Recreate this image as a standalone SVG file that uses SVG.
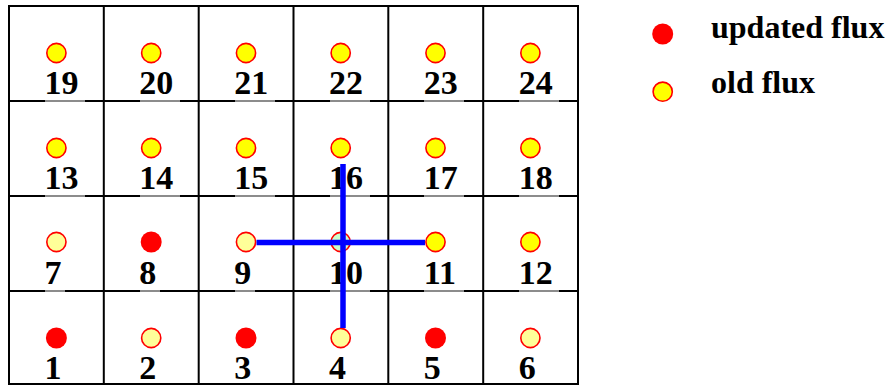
<svg xmlns="http://www.w3.org/2000/svg" width="888" height="385" viewBox="0 0 888 385">
<style>
.grid{fill:none;stroke:#000;stroke-width:2}
.lbl{font-family:"Liberation Serif","Times New Roman",serif;font-weight:bold;font-size:34px;fill:#000}
.leg{font-family:"Liberation Serif","Times New Roman",serif;font-weight:bold;font-size:32px;fill:#000}
.old{fill:#FFFF00;stroke:#FF0000;stroke-width:1.6}
.pale{fill:#FFFF99;stroke:#FF0000;stroke-width:1.6}
.green{fill:#CCFFCC;stroke:#FF0000;stroke-width:1.6}
.upd{fill:#FF0000}
.patch{fill:#fff;opacity:0.55}
.conn{stroke:#0000FF;stroke-width:5.5;fill:none}
</style>
<rect width="888" height="385" fill="#fff"/>
<g id="grid">
<rect class="grid" x="9" y="6" width="569" height="378"/>
<path class="grid" d="M103.8 6V384M198.7 6V384M293.5 6V384M388.3 6V384M483.2 6V384M9 101H578M9 196H578M9 291H578"/>
</g>
<g id="cell19"><rect class="patch" x="45" y="99" width="40" height="3"/><circle class="old" cx="56.4" cy="53" r="9.6"/><text class="lbl" x="44.5" y="94">19</text></g>
<g id="cell20"><rect class="patch" x="140" y="99" width="40" height="3"/><circle class="old" cx="151.2" cy="53" r="9.6"/><text class="lbl" x="139.3" y="94">20</text></g>
<g id="cell21"><rect class="patch" x="235" y="99" width="40" height="3"/><circle class="old" cx="246" cy="53" r="9.6"/><text class="lbl" x="234.2" y="94">21</text></g>
<g id="cell22"><rect class="patch" x="330" y="99" width="40" height="3"/><circle class="old" cx="340.7" cy="53" r="9.6"/><text class="lbl" x="329" y="94">22</text></g>
<g id="cell23"><rect class="patch" x="424" y="99" width="40" height="3"/><circle class="old" cx="435.5" cy="53" r="9.6"/><text class="lbl" x="423.8" y="94">23</text></g>
<g id="cell24"><rect class="patch" x="519" y="99" width="40" height="3"/><circle class="old" cx="530.4" cy="53" r="9.6"/><text class="lbl" x="518.7" y="94">24</text></g>

<g id="cell13"><rect class="patch" x="45" y="194" width="40" height="3"/><circle class="old" cx="56.4" cy="148" r="9.6"/><text class="lbl" x="44.5" y="189">13</text></g>
<g id="cell14"><rect class="patch" x="140" y="194" width="40" height="3"/><circle class="old" cx="151.2" cy="148" r="9.6"/><text class="lbl" x="139.3" y="189">14</text></g>
<g id="cell15"><rect class="patch" x="235" y="194" width="40" height="3"/><circle class="old" cx="246" cy="148" r="9.6"/><text class="lbl" x="234.2" y="189">15</text></g>
<g id="cell16"><rect class="patch" x="330" y="194" width="40" height="3"/><circle class="old" cx="340.7" cy="148" r="9.6"/><text class="lbl" x="329" y="189">16</text></g>
<g id="cell17"><rect class="patch" x="424" y="194" width="40" height="3"/><circle class="old" cx="435.5" cy="148" r="9.6"/><text class="lbl" x="423.8" y="189">17</text></g>
<g id="cell18"><rect class="patch" x="519" y="194" width="40" height="3"/><circle class="old" cx="530.4" cy="148" r="9.6"/><text class="lbl" x="518.7" y="189">18</text></g>

<g id="cell7"><rect class="patch" x="45" y="289" width="20" height="3"/><circle class="pale" cx="56.4" cy="242" r="9.6"/><text class="lbl" x="44.5" y="284">7</text></g>
<g id="cell8"><rect class="patch" x="140" y="289" width="20" height="3"/><circle class="upd" cx="151.2" cy="242" r="10.5"/><text class="lbl" x="139.3" y="284">8</text></g>
<g id="cell9"><rect class="patch" x="235" y="289" width="20" height="3"/><circle class="pale" cx="246" cy="242" r="9.6"/><text class="lbl" x="234.2" y="284">9</text></g>
<g id="cell10"><rect class="patch" x="330" y="289" width="40" height="3"/><circle class="green" cx="340.7" cy="242" r="9.6"/><text class="lbl" x="329" y="284">10</text></g>
<g id="cell11"><rect class="patch" x="424" y="289" width="40" height="3"/><circle class="old" cx="435.5" cy="242" r="9.6"/><text class="lbl" x="423.8" y="284">11</text></g>
<g id="cell12"><rect class="patch" x="519" y="289" width="40" height="3"/><circle class="old" cx="530.4" cy="242" r="9.6"/><text class="lbl" x="518.7" y="284">12</text></g>

<g id="cell1"><circle class="upd" cx="56.4" cy="338" r="10.5"/><text class="lbl" x="44.5" y="378.5">1</text></g>
<g id="cell2"><circle class="pale" cx="151.2" cy="338" r="9.6"/><text class="lbl" x="139.3" y="378.5">2</text></g>
<g id="cell3"><circle class="upd" cx="246" cy="338" r="10.5"/><text class="lbl" x="234.2" y="378.5">3</text></g>
<g id="cell4"><circle class="pale" cx="340.7" cy="338" r="9.6"/><text class="lbl" x="329" y="378.5">4</text></g>
<g id="cell5"><circle class="upd" cx="435.5" cy="338" r="10.5"/><text class="lbl" x="423.8" y="378.5">5</text></g>
<g id="cell6"><circle class="pale" cx="530.4" cy="338" r="9.6"/><text class="lbl" x="518.7" y="378.5">6</text></g>

<g id="connectors">
<line class="conn" x1="256.5" y1="242.5" x2="425" y2="242.5"/>
<line class="conn" x1="343" y1="164" x2="343" y2="328"/>
</g>

<g id="legend-updated"><circle class="upd" cx="662.7" cy="34" r="10.5"/><text class="leg" x="711" y="37.5">updated flux</text></g>
<g id="legend-old"><circle class="old" cx="662.7" cy="91.7" r="9.6"/><text class="leg" x="711" y="92.5">old flux</text></g>
</svg>
